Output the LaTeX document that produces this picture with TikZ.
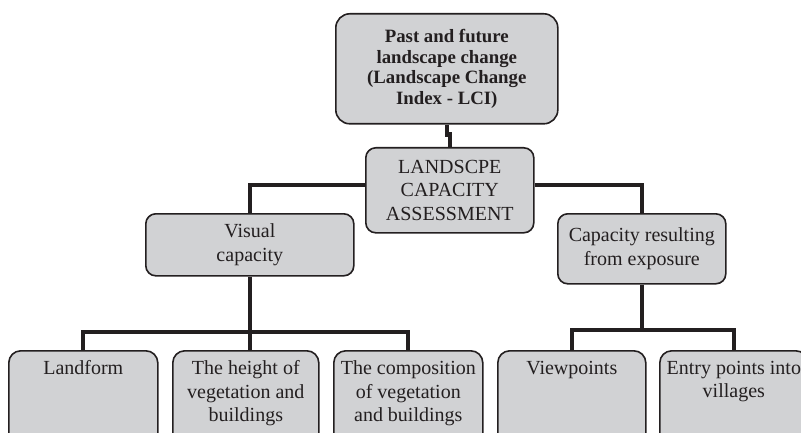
\documentclass[tikz,border=0pt]{standalone}
\usepackage{fontspec}
\setmainfont{Liberation Serif}
\usepackage{tikz}

\definecolor{boxgray}{RGB}{209,210,212}
\definecolor{inkgray}{RGB}{35,31,32}

\tikzset{
    boxbase/.style={draw=inkgray, fill=boxgray, line width=1.6pt, anchor=north west,
        inner sep=0pt, text=inkgray, font=\fontsize{20}{23.5}\selectfont},
    box/.style={boxbase, align=center, rounded corners=10pt},
    leaf/.style={boxbase, rounded corners=12pt, minimum width=#1, inner ysep=10pt,
        execute at begin node={\begin{minipage}[t][80pt][t]{140pt}\centering},
        execute at end node={\end{minipage}}},
    link/.style={draw=inkgray, line width=4.3pt},
}

\begin{document}
\begin{tikzpicture}[x=1pt,y=-1pt]
    \useasboundingbox (0,0) rectangle (801,433);
    \clip (0,0) rectangle (801,433);

    % upper part of the tree
    \node[box, rounded corners=14pt, minimum width=222pt, minimum height=110pt,
        font=\fontsize{18.8}{20.8}\selectfont\bfseries] (past) at (335,13)
        {Past and future\\landscape change\\(Landscape Change\\Index - LCI)};
    \node[box, minimum width=168pt, minimum height=85pt] (lca) at (365,147)
        {LANDSCPE\\CAPACITY\\ASSESSMENT};
    \node[box, minimum width=208pt, minimum height=62pt] (vis) at (145,213)
        {Visual\\capacity};
    \node[box, minimum width=168pt, minimum height=70pt] (cap) at (557,213)
        {Capacity resulting\\from exposure};

    % bottom row
    \foreach \nm/\xx/\bw/\txt in {landform/8/149/Landform,
        height/172/146/{The height of\\vegetation and\\buildings},
        comp/333/149/{The composition\\of vegetation\\and buildings},
        view/497/148/Viewpoints,
        entry/659/148/{Entry points into\\villages}} {
        \node[leaf=\bw pt] (\nm) at (\xx,350) {\txt};
    }

    % connectors
    \draw[link] (past.south) -- ++(0,10) -| (lca.north);
    \draw[link] ([yshift=5pt]lca.west) -| (vis.north);
    \draw[link] ([yshift=5pt]lca.east) -| (cap.north);
    \draw[link] (vis.south) -- (vis.south |- height.north);
    \draw[link] (landform.north) -- ++(0,-18) -| (comp.north);
    \draw[link] (cap.south) -- ([yshift=20pt]cap.south |- view.north);
    \draw[link] (view.north) -- ++(0,-20) -| (entry.north);
\end{tikzpicture}
\end{document}
